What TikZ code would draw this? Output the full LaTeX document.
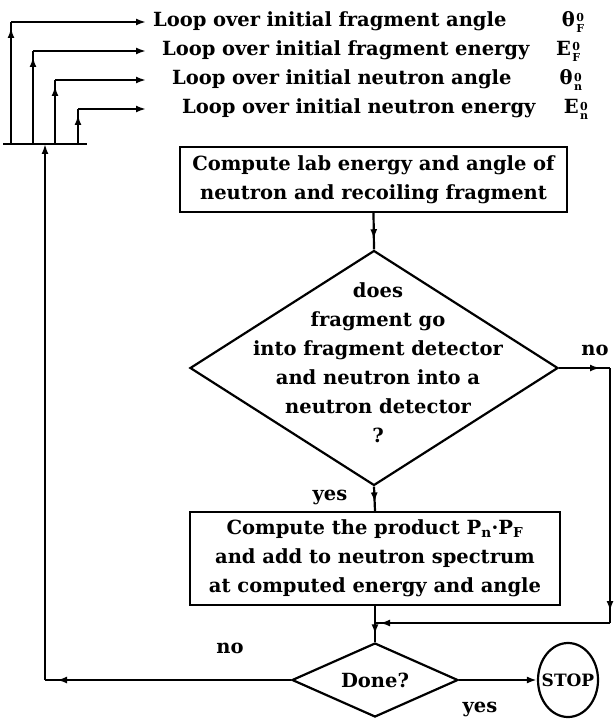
\documentclass[tikz,border=0pt]{standalone}
\usepackage{fontspec}
\setmainfont{DejaVu Serif}
\usetikzlibrary{arrows.meta,shapes.geometric,decorations.markings}
\newcommand{\supsub}[3]{#1\kern1.5pt\raisebox{-6pt}{\fontsize{11}{12.5}\selectfont\shortstack[l]{#2\\#3}}}

\begin{document}
\begin{tikzpicture}[x=1pt, y=-1pt, >={Latex[length=10pt,width=7pt]},
    every node/.style={font=\bfseries\fontsize{19.5}{29}\selectfont},
    line/.style={line width=2.2pt},
    tip/.style={postaction={decorate}, decoration={markings,
      mark=at position #1 with {\arrow{Latex[length=10pt,width=7pt]}}}},
    loopline/.style={anchor=west, inner sep=0pt, align=left, text width=#1},
    box/.style={draw, line width=2.2pt, align=center, inner sep=0pt},
    choice/.style={diamond, draw, line width=2.2pt, inner sep=0pt, aspect=2.2}]
    \useasboundingbox (0,0) rectangle (614,719);

    \node[loopline=431pt] (lfa) at (153,22) {Loop over initial fragment angle\hfill\supsub{θ}{0}{F}};
    \node[loopline=418pt] (lfe) at (162,51) {Loop over initial fragment energy\hfill\supsub{E}{0}{F}};
    \node[loopline=410pt] (lna) at (172,80) {Loop over initial neutron angle\hfill\supsub{θ}{0}{n}};
    \node[loopline=406pt] (lne) at (182,109) {Loop over initial neutron energy\hfill\supsub{E}{0}{n}};

    \coordinate (bl) at (3,144);
    \coordinate (br) at (87,144);
    \draw[line] (bl) -- (br);
    \foreach \x/\y/\n in {11/22/fa, 33/51/fe, 55/80/na, 78/109/ne} {
      \coordinate (c\n) at (\x,\y);
      \coordinate (e\n) at (146,\y);
      \draw[line, tip=-6pt] (c\n |- bl) -- (c\n);
      \draw[line, ->] (c\n) -- (e\n);
    }

    \node[box, minimum width=387, minimum height=65] (lab) at (373.5,179.5)
      {Compute lab energy and angle of\\neutron and recoiling fragment};

    \node[choice, minimum width=368, minimum height=235] (dec) at (374,368) {};
    \node[align=center] (dectxt) at (378,363)
      {does\\fragment go\\into fragment detector\\and neutron into a\\neutron detector\\?};
    \draw[line, tip=0.72] (lab.south) -- (dec.north);

    \node[box, minimum width=370, minimum height=93] (prod) at (375,558.5)
      {Compute the product P\textsubscript{n}·P\textsubscript{F}\\and add to neutron spectrum\\at computed energy and angle};
    \draw[line, tip=0.65] (dec.south) -- (prod.north);
    \node (yes1) at (330,497) {yes};

    \coordinate (ne) at (610,368);
    \coordinate (se) at (610,623);
    \coordinate (jn) at (375,623);
    \draw[line, tip=-10pt] (dec.east) -- (ne);
    \draw[line, tip=-12pt] (ne) -- (se);
    \draw[line, tip=-5pt] (se) -- (jn);
    \node (no1) at (595,350) {no};

    \node[choice, minimum width=166, minimum height=74] (done) at (375,680) {Done?};
    \draw[line] (prod.south) -- (jn);
    \draw[line, tip=0.6] (jn) -- (done.north);

    \node[ellipse, draw, line width=2.2pt, minimum width=60, minimum height=74, inner sep=0pt] (stop) at (568,680) {};
    \node[inner sep=0pt, font=\bfseries\fontsize{17}{20}\selectfont] (stoptxt) at (stop) {STOP};
    \draw[line, ->] (done.east) -- (stop.west);
    \node (yes2) at (480,709) {yes};

    \coordinate (fb) at (45,680);
    \draw[line, tip=-12pt] (done.west) -- (fb);
    \draw[line, ->] (fb) -- (fb |- bl);
    \node (no2) at (230,648) {no};
\end{tikzpicture}
\end{document}
